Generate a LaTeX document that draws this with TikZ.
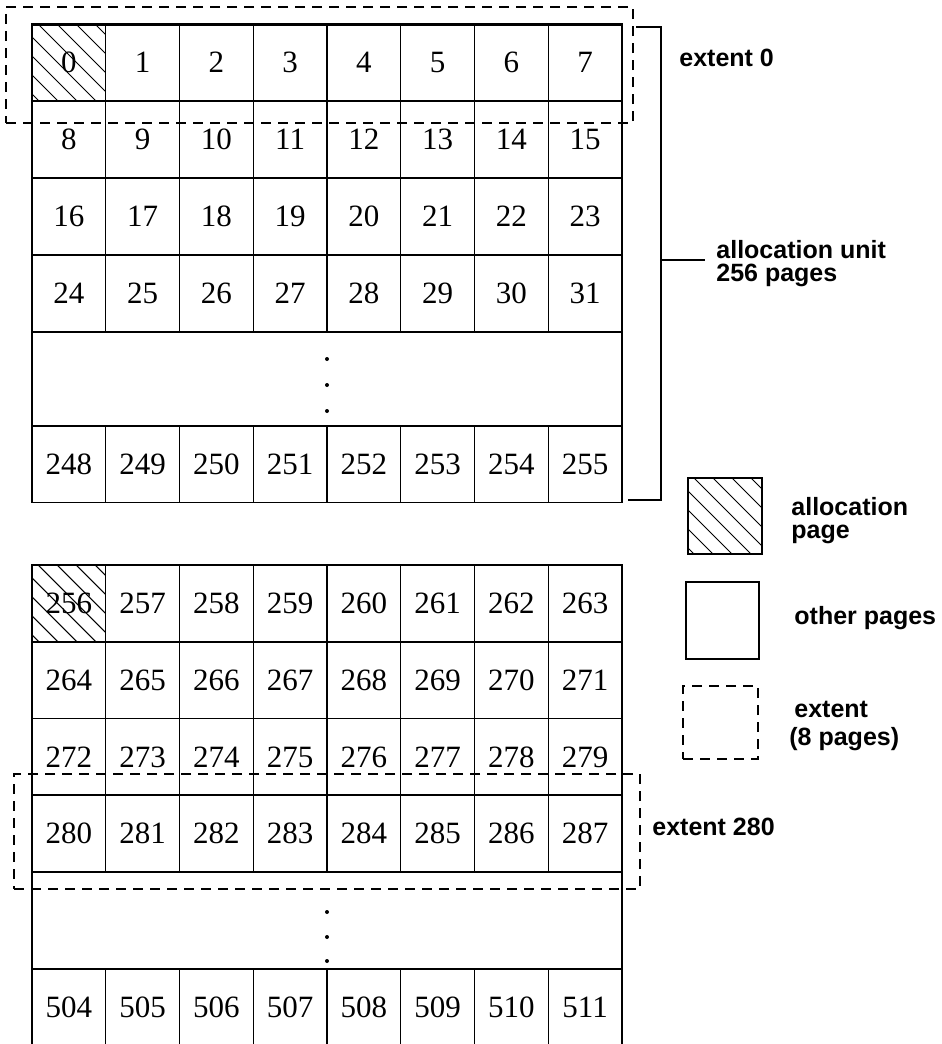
\documentclass[tikz,border=0pt]{standalone}
\usepackage{fontspec}
\setmainfont{Liberation Serif}
\setsansfont{Liberation Sans}
\usetikzlibrary{positioning}

\begin{document}
\begin{tikzpicture}[
  x=0.5pt, y=-0.5pt,
  cell/.style={draw, line width=0.7pt, minimum width=36.875pt, minimum height=38.5pt,
    inner sep=0pt, outer sep=0pt, font=\fontsize{15.5}{18}\selectfont},
  gap/.style={draw, line width=0.7pt, minimum width=295pt, inner sep=0pt, outer sep=0pt},
  extent/.style={draw, dash pattern=on 5pt off 3.5pt, line width=0.6pt, inner sep=0pt, outer sep=0pt},
  note/.style={anchor=west, inner sep=0pt, align=left,
    font=\sffamily\bfseries\fontsize{12.5}{11.5}\selectfont},
  bracket/.style={line width=0.7pt},
  hatched/.style={path picture={
    \foreach \k in {-44.5,-35,...,40}
      \draw[line width=0.5pt] ([xshift=\k pt]path picture bounding box.north west) -- ++(45pt,-45pt);
  }}
]
\useasboundingbox (0,0) rectangle (942,1044);

% first allocation unit
\foreach \r in {0,...,3}
  \foreach \c in {0,...,7} {
    \pgfmathtruncatemacro\n{8*\r+\c}
    \node[cell] (a\n) at (68.875+73.75*\c, 62.5+77*\r) {\n};
  }
\node[gap, minimum height=47pt] (agap) at (327,379) {};
\foreach \c in {0,...,7} {
  \pgfmathtruncatemacro\n{248+\c}
  \node[cell] (a\n) at (68.875+73.75*\c, 464) {\n};
}
\draw[line width=1.5pt] (a0.north west) -- (a7.north east);
\foreach \y in {359,385,411}
  \fill (327,\y) circle (1pt);

% second allocation unit
\foreach \r in {0,...,3}
  \foreach \c in {0,...,7} {
    \pgfmathtruncatemacro\n{256+8*\r+\c}
    \node[cell] (b\n) at (68.875+73.75*\c, 603.4+76.75*\r) {\n};
  }
\node[gap, minimum height=48.5pt] (bgap) at (327,920.5) {};
\foreach \c in {0,...,7} {
  \pgfmathtruncatemacro\n{504+\c}
  \node[cell] (b\n) at (68.875+73.75*\c, 1007.5) {\n};
}
\draw[line width=1pt] (b256.north west) -- (b263.north east);
\foreach \y in {912,937,961}
  \fill (327,\y) circle (1pt);

% allocation pages
\path[hatched] (a0.north west) rectangle (a0.south east);
\path[hatched] (b256.north west) rectangle (b256.south east);

% extents
\node[extent, minimum width=313.5pt, minimum height=58pt] (ext0) at (319.5,65) {};
\node[extent, minimum width=313pt, minimum height=57.5pt] (ext280) at (327,831.5) {};
\node[note] (ext0lbl) at (679,58) {extent 0};
\node[note] (ext280lbl) at (652,827) {extent 280};

% allocation unit bracket
\coordinate (brtop) at (661,27);
\coordinate (brbot) at (661,500);
\coordinate (brmid) at (661,260);
\coordinate (brtick) at (705,260);
\draw[bracket] (636,27) -- (brtop) -- (brbot) -- (628,500);
\draw[bracket] (brmid) -- (brtick);
\node[note] (unitlbl) at (716,264) {allocation unit\\256 pages};

% legend
\node[cell, minimum width=37pt, minimum height=38pt, hatched] (keyalloc) at (725,516) {};
\node[note] (keyalloclbl) at (791,521) {allocation\\page};
\node[cell, minimum width=36.5pt, minimum height=38.5pt] (keyother) at (722.5,620.5) {};
\node[note] (keyotherlbl) at (794,618) {other pages};
\node[extent, minimum width=37.5pt, minimum height=36.5pt] (keyext) at (720.5,722.5) {};
\node[note] (keyextlbl) at (789,726) {\hspace*{2.5pt}extent\\[2.5pt](8 pages)};
\end{tikzpicture}
\end{document}
